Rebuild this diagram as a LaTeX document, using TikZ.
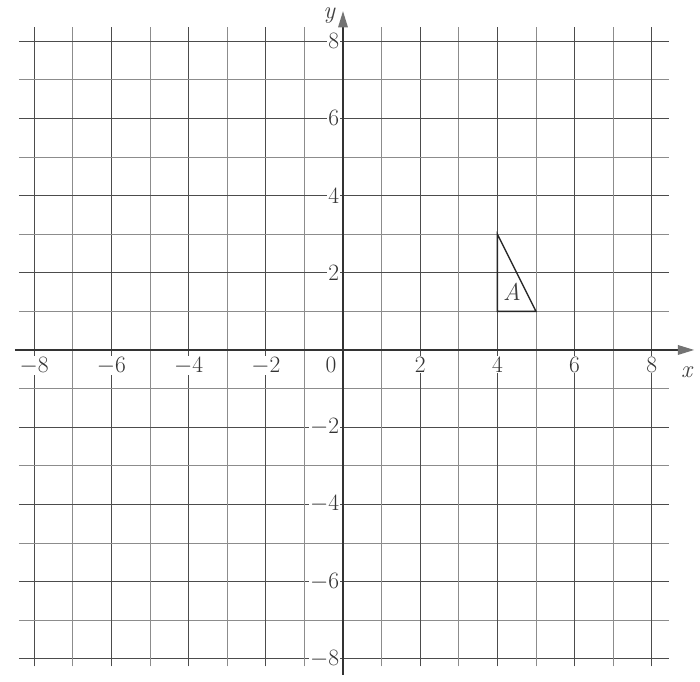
\documentclass[tikz,border=0pt]{standalone}
\usetikzlibrary{arrows.meta}
\begin{document}
\begin{tikzpicture}[
	griglia/.style={line width=0.5pt, black!70},
	grigliafine/.style={line width=0.45pt, black!45},
	asse/.style={line width=1.2pt, black!80, -{Triangle[length=12pt, width=7pt, color=black!55, fill=black!55]}},
	triangolo/.style={line width=1pt, line join=miter, black!85},
	etich/.style={font=\fontsize{18}{20}\selectfont, fill=white, inner sep=1pt, text=black!80},
	nomeasse/.style={font=\fontsize{18}{20}\selectfont\itshape, inner sep=0pt, text=black!75},
	]
	%% cornice fissa (margini della pagina)
	\useasboundingbox (-8.886,-8.601) rectangle (9.249,9.067);
	
	%% =========================================================
	%% quadrettatura
	%% =========================================================
	\foreach \k in {-8,...,8}{
		\pgfmathparse{int(mod(abs(\k),2))}
		\ifnum\pgfmathresult=0
			\draw[griglia](-8.40,\k)--(8.45,\k);
			\draw[griglia](\k,-8.20)--(\k,8.37);
		\else
			\draw[grigliafine](-8.40,\k)--(8.45,\k);
			\draw[grigliafine](\k,-8.20)--(\k,8.37);
		\fi}
	
	%% =========================================================
	%% assi cartesiani
	%% =========================================================
	\coordinate (xmin) at (-8.5,0);
	\coordinate (xmax) at (9.10,0);
	\coordinate (ymin) at (0,-8.42);
	\coordinate (ymax) at (0,8.78);
	\draw[asse](xmin)--(xmax);
	\draw[asse](ymin)--(ymax);
	\node[nomeasse] (nx) at (8.90,-0.57) {x};
	\node[nomeasse, anchor=base] (ny) at (-0.36,8.58) {y};
	
	%% etichette sull'asse x (pari, tranne lo zero)
	\foreach \x in {-8,-6,-4,-2,2,4,6,8}
	\node[etich, anchor=north] (ex\x) at (\x,-0.14) {$\x$};
	\node[etich, anchor=north] (ex0) at (-0.31,-0.14) {$0$};
	%% etichette sull'asse y
	\foreach \y in {-8,-6,-4,-2,2,4,6,8}
	\node[etich, anchor=east] (ey\y) at (-0.06,\y) {$\y$};
	
	%% =========================================================
	%% triangolo A
	%% =========================================================
	\coordinate (T1) at (4,1);
	\coordinate (T2) at (5,1);
	\coordinate (T3) at (4,3);
	\draw[triangolo](T1)--(T2)--(T3)--cycle;
	\node[nomeasse] (nA) at (4.38,1.50) {A};
	
\end{tikzpicture}
\end{document}
